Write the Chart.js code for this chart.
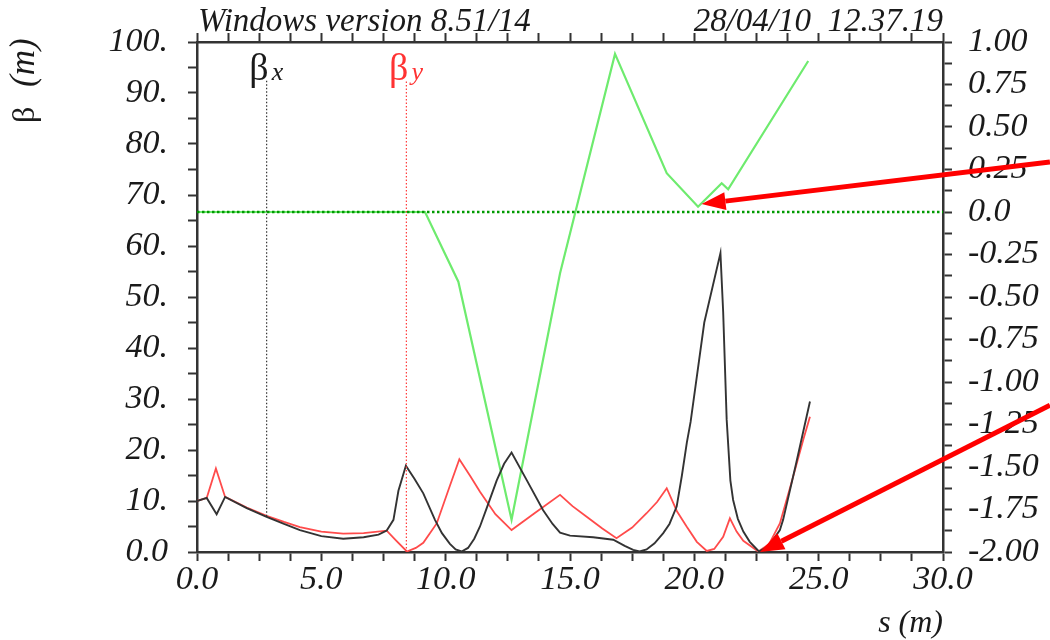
<!DOCTYPE html>
<html>
<head>
<meta charset="utf-8">
<script src="https://cdn.jsdelivr.net/npm/chart.js@4"></script>
<style>
  body { margin: 0; background: #fff; }
  canvas { display: block; }
</style>
</head>
<body>
<canvas id="chart" width="1050" height="640"></canvas>
<script>
// beta x (black curve): position s (m) and beta (m)
const sBetaX = [0, 0.39, 0.79, 1.13, 2.0, 2.8, 3.5, 4.14, 5.0, 5.88, 6.7, 7.3, 7.63, 7.9, 8.1, 8.4,
  8.75, 9.1, 9.57, 9.85, 10.17, 10.4, 10.64, 10.9, 11.15, 11.38, 11.65, 12.05, 12.35, 12.65, 13.26, 13.92, 14.3, 14.6,
  15.0, 15.93, 16.74, 17.2, 17.54, 17.8, 18.08, 18.4, 18.75, 19.0, 19.29, 19.5, 19.7, 19.85, 20.4, 21.05,
  21.16, 21.3, 21.45, 21.56, 21.75, 21.97, 22.23, 22.6, 23.0, 23.44, 23.57, 24.1, 24.65];
const betaX = [10.0, 10.6, 7.4, 10.8, 8.6, 6.9, 5.5, 4.3, 3.1, 2.6, 2.9, 3.4, 4.2, 6.3, 12.0, 16.9,
  14.3, 11.5, 6.3, 3.7, 1.6, 0.5, 0.1, 0.8, 2.6, 5.0, 8.6, 14.0, 17.3, 19.5, 14.1, 8.2, 5.5, 3.8,
  3.2, 2.9, 2.4, 1.2, 0.4, 0.1, 0.5, 1.7, 3.7, 5.5, 8.9, 15.0, 21.5, 25.5, 45.0, 58.6,
  47.0, 26.0, 14.0, 10.2, 6.5, 4.0, 2.0, 0.1, 1.2, 4.3, 6.3, 17.5, 29.5];

// beta y (red curve)
const sBetaY = [0, 0.39, 0.76, 1.13, 2.0, 2.8, 3.5, 4.14, 5.0, 5.88, 6.7, 7.63, 8.0, 8.44, 8.8, 9.1,
  9.64, 10.17, 10.55, 11.0, 11.38, 12.0, 12.65, 13.6, 14.6, 15.1, 15.67, 16.3, 16.87, 17.5, 18.08, 18.5,
  18.89, 19.3, 19.69, 20.1, 20.5, 20.8, 21.16, 21.43, 21.7, 21.97, 22.57, 23.0, 23.44, 23.9, 24.38, 24.65];
const betaY = [10.0, 10.6, 16.4, 10.8, 8.7, 7.1, 5.9, 4.9, 4.0, 3.6, 3.7, 4.2, 2.3, 0.1, 0.8, 1.8,
  5.6, 13.0, 18.2, 14.8, 11.8, 7.4, 4.3, 7.7, 11.2, 9.0, 6.9, 4.6, 2.7, 4.8, 7.6, 9.8,
  12.5, 8.0, 5.0, 2.0, 0.2, 0.6, 3.0, 6.6, 4.0, 2.2, 0.1, 1.5, 5.6, 13.5, 22.0, 26.5];

// dispersion (green curve, right axis)
const sDisp = [0, 9.17, 10.51, 12.65, 14.6, 16.81, 18.89, 20.15, 21.1, 21.36, 24.58];
const disp = [0, 0, -0.41, -1.81, -0.36, 0.93, 0.228, 0.031, 0.169, 0.134, 0.888];

// zero line of the dispersion
const sZero = [0, 30];
const dZero = [0, 0];

// vertical markers for the beta labels
const markerNames = ['x', 'y'];
const markerS = [2.8, 8.42];
const markerBottom = [7.0, 0];
const markerTop = 92.5;

const headerLeft = 'Windows version 8.51/14';
const headerRight = '28/04/10  12.37.19';

const serif = '"Liberation Serif", "Times New Roman", serif';
const inkColor = '#1a1a1a';
const redLine = 'rgb(255,75,75)';
const greenLine = 'rgb(110,235,110)';

function pts(xs, ys) {
  return xs.map((s, i) => ({x: s, y: ys[i]}));
}

// text labels and the red arrows
const overlay = {
  id: 'overlay',
  afterDraw(chart) {
    const ctx = chart.ctx;
    const x = chart.scales.x, y = chart.scales.y, y2 = chart.scales.y2;
    ctx.save();
    ctx.fillStyle = inkColor;
    ctx.textBaseline = 'alphabetic';
    ctx.font = 'italic 33px ' + serif;
    ctx.textAlign = 'left';
    ctx.fillText(headerLeft, x.left + 1, 31);
    ctx.textAlign = 'right';
    ctx.fillText(headerRight, x.right, 31);

    ctx.font = 'italic 32px ' + serif;
    ctx.fillText('s (m)', x.right, 632);

    // beta labels over the markers
    markerNames.forEach((n, i) => {
      const px = x.getPixelForValue(markerS[i]);
      ctx.fillStyle = i === 0 ? inkColor : 'rgb(255,50,50)';
      ctx.textAlign = 'right';
      ctx.font = '38px ' + serif;
      ctx.fillText('β', px + 2, 80);
      ctx.textAlign = 'left';
      ctx.font = 'italic 26px ' + serif;
      ctx.fillText(n, px + 5, 80);
    });

    // y axis title, rotated
    ctx.fillStyle = inkColor;
    ctx.save();
    ctx.translate(34, 123);
    ctx.rotate(-Math.PI / 2);
    ctx.textAlign = 'left';
    ctx.font = '32px ' + serif;
    ctx.fillText('β', 0, 0);
    ctx.font = 'italic 35px ' + serif;
    ctx.fillText('(m)', 36, 0);
    ctx.restore();

    // red arrows
    const arrows = [
      {tail: [34.3, 0.294], tip: [20.29, 0.047], scale: y2},
      {tail: [34.3, 28.8], tip: [22.64, 0], scale: y}
    ];
    ctx.strokeStyle = '#ff0000';
    ctx.fillStyle = '#ff0000';
    ctx.lineWidth = 5;
    arrows.forEach(a => {
      const x0 = x.getPixelForValue(a.tail[0]), y0 = a.scale.getPixelForValue(a.tail[1]);
      const x1 = x.getPixelForValue(a.tip[0]), y1 = a.scale.getPixelForValue(a.tip[1]);
      const ang = Math.atan2(y1 - y0, x1 - x0);
      const len = 24, half = 9;
      const bx = x1 - len * Math.cos(ang), by = y1 - len * Math.sin(ang);
      ctx.beginPath();
      ctx.moveTo(x0, y0);
      ctx.lineTo(bx, by);
      ctx.stroke();
      ctx.beginPath();
      ctx.moveTo(x1, y1);
      ctx.lineTo(bx + half * Math.sin(ang), by - half * Math.cos(ang));
      ctx.lineTo(bx - half * Math.sin(ang), by + half * Math.cos(ang));
      ctx.closePath();
      ctx.fill();
    });
    ctx.restore();
  }
};

const tickFont = {family: serif, style: 'italic', size: 34, lineHeight: 1};
const border = {display: true, color: '#333', width: 2.5};
const grid = {drawOnChartArea: false, drawTicks: true, tickLength: 9, tickColor: '#333', tickWidth: 2};

const datasets = [
  {data: pts(sZero, dZero), yAxisID: 'y2', borderColor: '#009a00', borderWidth: 2.5, borderDash: [2.5, 2.5], order: 0},
  {data: pts([markerS[0], markerS[0]], [markerBottom[0], markerTop]), yAxisID: 'y', borderColor: '#333', borderWidth: 1.2, borderDash: [1.5, 2], order: 1},
  {data: pts([markerS[1], markerS[1]], [markerBottom[1], markerTop]), yAxisID: 'y', borderColor: 'rgb(255,60,60)', borderWidth: 1.2, borderDash: [1.5, 2], order: 1},
  {data: pts(sBetaX, betaX), yAxisID: 'y', borderColor: '#333', borderWidth: 1.9, order: 2},
  {data: pts(sBetaY, betaY), yAxisID: 'y', borderColor: redLine, borderWidth: 1.8, order: 3},
  {data: pts(sDisp, disp), yAxisID: 'y2', borderColor: greenLine, borderWidth: 2.2, order: 4}
];

new Chart(document.getElementById('chart'), {
  type: 'line',
  data: {datasets: datasets},
  options: {
    responsive: false,
    animation: false,
    layout: {padding: 0},
    elements: {point: {radius: 0}, line: {tension: 0, fill: false}},
    plugins: {legend: {display: false}, tooltip: {enabled: false}},
    scales: {
      x: {
        type: 'linear', position: 'bottom', min: 0, max: 30,
        border: border, grid: grid,
        ticks: {stepSize: 1.25, autoSkip: false, maxRotation: 0, padding: 2, color: inkColor, font: tickFont,
          callback: v => (v % 5 === 0 ? v.toFixed(1) : '')},
        afterFit: s => { s.height = 88; }
      },
      xTop: {
        type: 'linear', position: 'top', min: 0, max: 30,
        border: border, grid: grid,
        ticks: {stepSize: 1.25, autoSkip: false, maxRotation: 0, callback: () => ''},
        afterFit: s => { s.height = 42; }
      },
      y: {
        type: 'linear', position: 'left', min: 0, max: 100,
        border: border, grid: grid,
        ticks: {stepSize: 5, autoSkip: false, padding: 20, color: inkColor, font: tickFont,
          callback: v => (v % 10 === 0 ? (v === 0 ? '0.0' : v + '.') : '')},
        afterFit: s => { s.width = 197; }
      },
      y2: {
        type: 'linear', position: 'right', min: -2, max: 1,
        border: border, grid: grid,
        ticks: {stepSize: 0.125, autoSkip: false, padding: 16, color: inkColor, font: tickFont,
          callback: v => (v % 0.25 === 0 ? (v === 0 ? '0.0' : v.toFixed(2)) : '')},
        afterFit: s => { s.width = 107; }
      }
    }
  },
  plugins: [overlay]
});
</script>
</body>
</html>
